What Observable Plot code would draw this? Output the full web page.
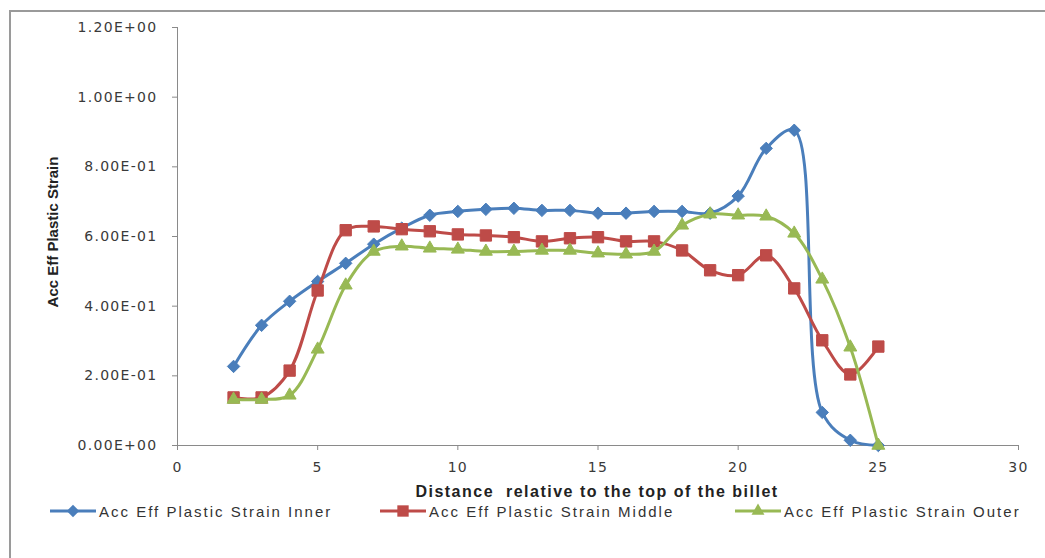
<!DOCTYPE html>
<html>
<head>
<meta charset="utf-8">
<script src="https://cdn.jsdelivr.net/npm/d3@7"></script>
<script src="https://cdn.jsdelivr.net/npm/@observablehq/plot@0.6"></script>
<style>
  html, body { margin: 0; padding: 0; background: #fff; }
  #wrap { position: relative; width: 1045px; height: 558px; overflow: hidden; background: #fff; }
  #frame { position: absolute; left: 9px; top: 10px; right: -5px; bottom: -5px; border-left: 2px solid #9a9a9a; border-top: 2px solid #9a9a9a; }
  #chart { position: absolute; left: 0; top: 0; }
  #chart svg { font-family: "DejaVu Sans", sans-serif; }
  #chart g[aria-label$="tick"] { color: #8a8a8a; }
  #chart g[aria-label$="tick label"] { fill: #3a3a3a; letter-spacing: 1.3px; }
  #ylabel { position: absolute; left: 52px; top: 232px; transform: translate(-50%, -50%) rotate(-90deg); font: bold 15px "Liberation Sans", Arial, sans-serif; color: #222; white-space: nowrap; }
  #xlabel { position: absolute; left: 597px; top: 483px; transform: translateX(-50%); font: bold 16px "Liberation Sans", Arial, sans-serif; letter-spacing: 1.5px; color: #222; white-space: pre; }
  #legend { position: absolute; top: 502px; left: 0; width: 1045px; height: 20px; font: 15px "Liberation Sans", Arial, sans-serif; color: #333; letter-spacing: 2px; }
  .item { position: absolute; display: flex; align-items: center; white-space: nowrap; }
  .item svg { display: block; margin-right: 3px; }
</style>
</head>
<body>
<div id="wrap">
  <div id="frame"></div>
  <div id="chart"></div>
  <div id="ylabel"></div>
  <div id="xlabel"></div>
  <div id="legend"></div>
</div>
<script>
// ---- data ----
const distance = [2,3,4,5,6,7,8,9,10,11,12,13,14,15,16,17,18,19,20,21,22,23,24,25];
const innerStrain  = [0.227,0.345,0.414,0.471,0.523,0.578,0.624,0.661,0.672,0.678,0.681,0.675,0.675,0.667,0.667,0.672,0.672,0.667,0.716,0.853,0.905,0.095,0.015,0.0];
const middleStrain = [0.138,0.138,0.215,0.445,0.618,0.629,0.621,0.615,0.606,0.603,0.598,0.586,0.595,0.598,0.586,0.586,0.560,0.503,0.489,0.546,0.451,0.302,0.204,0.284];
const outerStrain  = [0.132,0.132,0.144,0.276,0.460,0.557,0.572,0.566,0.563,0.557,0.557,0.560,0.560,0.552,0.549,0.557,0.632,0.664,0.661,0.658,0.609,0.477,0.282,0.0];
const seriesNames = ["Acc Eff Plastic Strain Inner", "Acc Eff Plastic Strain Middle", "Acc Eff Plastic Strain Outer"];
const seriesColors = ["#4A7EBB", "#BE4B48", "#98B954"];
const seriesSymbols = ["diamond2", "square", "triangle"];
const xTicks = [0,5,10,15,20,25,30];
const yTicks = [0,0.2,0.4,0.6,0.8,1.0,1.2];
const yTickLabels = ["0.00E+00","2.00E-01","4.00E-01","6.00E-01","8.00E-01","1.00E+00","1.20E+00"];
const xTitle = "Distance  relative to the top of the billet";
const yTitle = "Acc Eff Plastic Strain";

const allSeries = [innerStrain, middleStrain, outerStrain];
const rows = allSeries.map((vals, s) => distance.map((x, i) => ({x, y: vals[i], s})));

const markSizes = [5.6, 6.4, 4.8];

const marks = [
  Plot.ruleX([0], {stroke: "#8a8a8a", strokeWidth: 1}),
  Plot.ruleY([0], {stroke: "#8a8a8a", strokeWidth: 1}),
  Plot.axisY({ticks: yTicks, tickFormat: (d) => yTickLabels[yTicks.indexOf(d)], tickSize: 5, tickPadding: 15, fontSize: 14, label: null}),
  Plot.axisX({ticks: xTicks, tickSize: 5, tickPadding: 12, fontSize: 14, label: null})
];
rows.forEach((data, s) => {
  marks.push(Plot.line(data, {x: "x", y: "y", stroke: seriesColors[s], strokeWidth: 3, curve: "catmull-rom"}));
  marks.push(Plot.dot(data, {x: "x", y: "y", symbol: () => seriesSymbols[s], r: markSizes[s], fill: seriesColors[s], stroke: seriesColors[s], strokeWidth: 1}));
});

const chart = Plot.plot({
  width: 1045,
  height: 478,
  marginLeft: 177,
  marginRight: 27,
  marginTop: 27,
  marginBottom: 33,
  x: {domain: [0, 30]},
  y: {domain: [0, 1.2]},
  symbol: {type: "identity"},
  marks
});
document.getElementById("chart").appendChild(chart);

document.getElementById("ylabel").textContent = yTitle;
document.getElementById("xlabel").textContent = xTitle;

// legend
const legendLeft = [50, 380, 735];
const legend = document.getElementById("legend");
seriesNames.forEach((name, s) => {
  const item = document.createElement("div");
  item.className = "item";
  item.style.left = legendLeft[s] + "px";
  const ns = "http://www.w3.org/2000/svg";
  const sv = document.createElementNS(ns, "svg");
  sv.setAttribute("width", 46); sv.setAttribute("height", 18);
  const ln = document.createElementNS(ns, "line");
  ln.setAttribute("x1", 0); ln.setAttribute("x2", 46); ln.setAttribute("y1", 9); ln.setAttribute("y2", 9);
  ln.setAttribute("stroke", seriesColors[s]); ln.setAttribute("stroke-width", 3);
  sv.appendChild(ln);
  const p = document.createElementNS(ns, "path");
  const sym = {diamond2: d3.symbolDiamond2, square: d3.symbolSquare, triangle: d3.symbolTriangle}[seriesSymbols[s]];
  const r = markSizes[s];
  p.setAttribute("d", d3.symbol(sym, Math.PI * r * r)());
  p.setAttribute("transform", "translate(23,9)");
  p.setAttribute("fill", seriesColors[s]);
  sv.appendChild(p);
  item.appendChild(sv);
  const t = document.createElement("span");
  t.textContent = name;
  item.appendChild(t);
  legend.appendChild(item);
});
</script>
</body>
</html>
